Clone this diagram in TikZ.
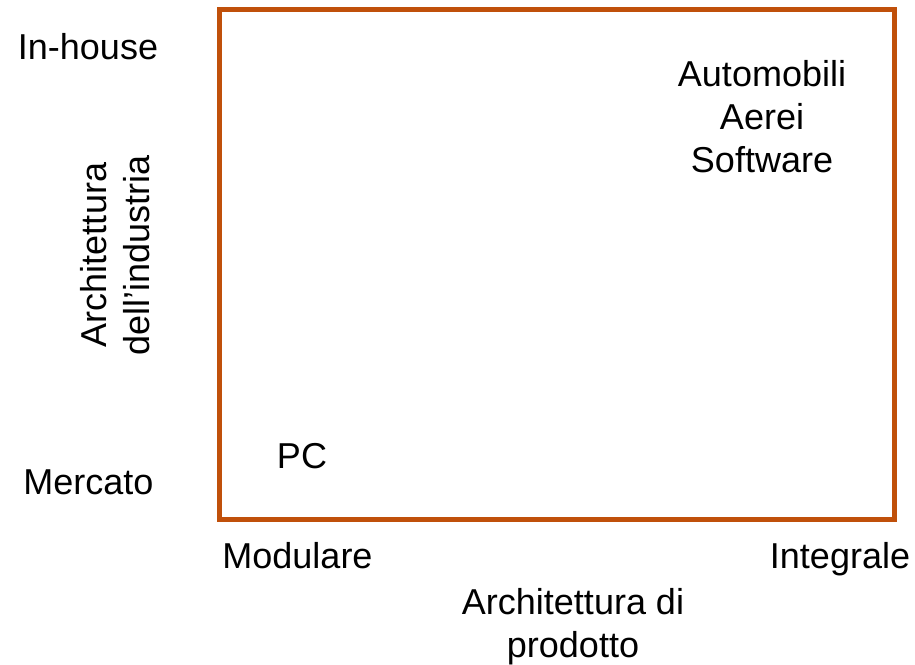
\documentclass[tikz,border=0pt]{standalone}
\usepackage{fontspec}
\setmainfont{Liberation Sans}
\usepackage{tikz}
\usetikzlibrary{positioning}
\definecolor{frameline}{HTML}{C0500A}

\begin{document}
\begin{tikzpicture}[
  x=1pt, y=-1pt,
  frm/.style={draw=frameline, line width=5pt, minimum width=675pt, minimum height=510pt, inner sep=0pt},
  lab/.style={font=\fontsize{36}{43}\selectfont, inner sep=0pt, outer sep=0pt, align=center}]
  \useasboundingbox (0,0) rectangle (915,664);
  \node[frm] (frame) at (556.5,264.5) {};
  \node[lab, anchor=base] (inhouse) at (88,59) {In-house};
  \node[lab, anchor=base] (mercato) at (88.5,494) {Mercato};
  \node[lab, rotate=90] (indlabel) at (115,255) {Architettura\\dell’industria};
  \node[lab, anchor=base] (pc) at (302,468) {PC};
  \node[lab] (prodlist) at (762,117) {Automobili\\Aerei\\Software};
  \node[lab, anchor=base] (modulare) at (297.5,568) {Modulare};
  \node[lab, anchor=base] (integrale) at (840,568) {Integrale};
  \node[lab] (prodlabel) at (573,627) {Architettura di\\prodotto};
\end{tikzpicture}
\end{document}
